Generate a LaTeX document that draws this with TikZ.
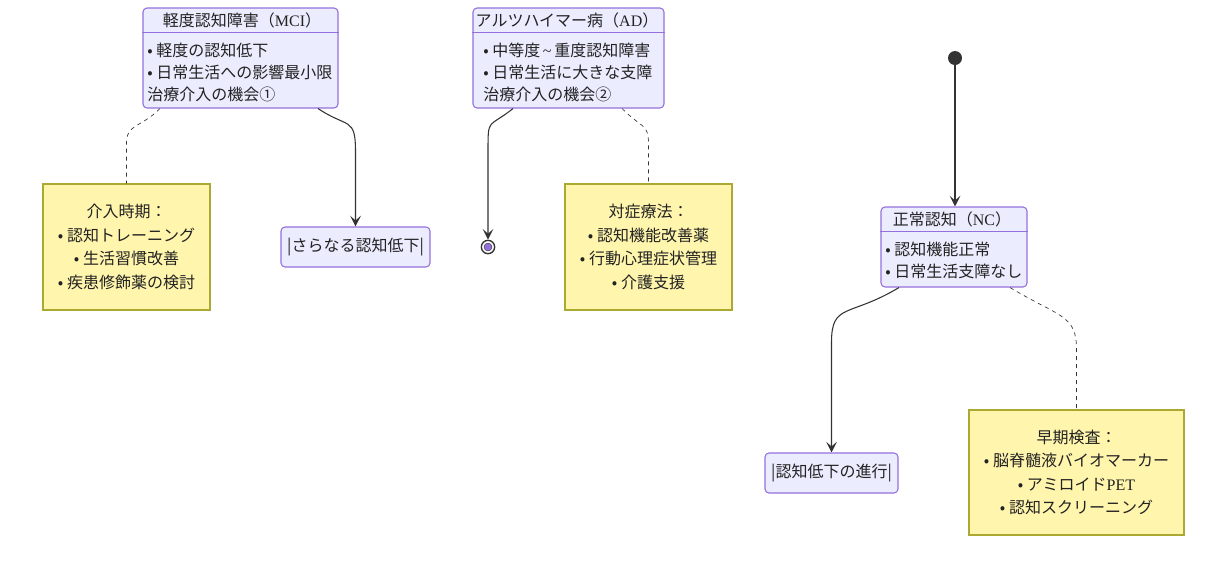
\documentclass[tikz,border=0pt]{standalone}
\usepackage{fontspec}
\setmainfont{Noto Sans CJK JP}
\newfontfamily\latserif{Liberation Serif}
\usetikzlibrary{arrows.meta,calc}

\definecolor{statefill}{HTML}{ECECFF}
\definecolor{stateborder}{HTML}{9370DB}
\definecolor{notefill}{HTML}{FFF5AD}
\definecolor{noteborder}{HTML}{AAAA33}
\definecolor{edge}{HTML}{333333}
\definecolor{textcol}{HTML}{222222}

\tikzset{
    statebox/.style={draw=stateborder, fill=statefill, rounded corners=3pt, line width=0.8pt, inner sep=0pt},
    notebox/.style={draw=noteborder, fill=notefill, line width=0.8pt, inner sep=0pt, align=center, text=textcol, font=\fontsize{12}{17.6}\selectfont},
    flow/.style={draw=edge, line width=0.8pt, -{Stealth[length=8pt,width=8pt,inset=3.5pt]}},
    notelink/.style={draw=edge, line width=0.5pt, dash pattern=on 3pt off 3pt},
    txt/.style={inner sep=0pt, text=textcol, font=\fontsize{12}{16.5}\selectfont},
}

\begin{document}
\begin{tikzpicture}[x=0.75pt, y=-0.75pt]
            \useasboundingbox (0,0) rectangle (1228,569);

            % states
            \node[statebox, minimum width=146.25pt, minimum height=75pt] at (240.5,58) (mci) {};
            \draw[stateborder, line width=0.8pt] ($(mci.north west)+(0,25)$) -- ($(mci.north east)+(0,25)$);
            \node[txt] at (242,20) (mcihead) {軽度認知障害（{\latserif MCI}）};
            \node[txt, anchor=west, align=left] at (147,72) (mcibody) {• 軽度の認知低下\\• 日常生活への影響最小限\\治療介入の機会①};

            \node[statebox, minimum width=143.25pt, minimum height=75pt] at (568.5,58) (ad) {};
            \draw[stateborder, line width=0.8pt] ($(ad.north west)+(0,25)$) -- ($(ad.north east)+(0,25)$);
            \node[txt] at (567,20) (adhead) {アルツハイマー病（{\latserif AD}）};
            \node[txt, anchor=west, align=left] at (483,72) (adbody) {• 中等度{\latserif\,\textasciitilde\,}重度認知障害\\• 日常生活に大きな支障\\治療介入の機会②};

            \node[statebox, minimum width=109.5pt, minimum height=60pt] at (954,247) (nc) {};
            \draw[stateborder, line width=0.8pt] ($(nc.north west)+(0,25)$) -- ($(nc.north east)+(0,25)$);
            \node[txt] at (952,219.5) (nchead) {正常認知（{\latserif NC}）};
            \node[txt, anchor=west, align=left] at (885,260) (ncbody) {• 認知機能正常\\• 日常生活支障なし};

            \node[statebox, txt, draw=stateborder, minimum width=111.75pt, minimum height=30pt] at (355.5,247) (sara) {|さらなる認知低下|};
            \node[statebox, txt, draw=stateborder, minimum width=99.75pt, minimum height=30pt] at (831.5,473) (shinko) {|認知低下の進行|};

            % start and end
            \node[circle, fill=edge, inner sep=0pt, minimum size=10.5pt] at (955,58) (init) {};
            \node[circle, draw=edge, fill=white, line width=1pt, inner sep=0pt, minimum size=10pt] at (488,247) (fin) {};
            \fill[stateborder, draw=edge, line width=0.3pt] (fin) circle (3pt);

            % notes
            \node[notebox, minimum width=125.25pt, minimum height=94.5pt] at (126.5,247) (note1) {介入時期：\\• 認知トレーニング\\• 生活習慣改善\\• 疾患修飾薬の検討};
            \node[notebox, minimum width=125.25pt, minimum height=94.5pt] at (648.5,247) (note2) {対症療法：\\• 認知機能改善薬\\• 行動心理症状管理\\• 介護支援};
            \node[notebox, minimum width=161.25pt, minimum height=93.75pt] at (1076.5,472.5) (note3) {早期検査：\\• 脳脊髄液バイオマーカー\\• アミロイド{\latserif PET}\\• 認知スクリーニング};

            % transitions
            \draw[flow] (init) -- (init |- nc.north);
            \draw[flow] ($(mci.south)+(77.5,0)$) .. controls +(30,20) and +(0,-35) .. ($(sara.north)+(0,-75)$) -- (sara.north);
            \draw[flow] ($(ad.south)+(-55.5,0)$) .. controls +(-25,20) and +(0,-35) .. ($(fin.north)+(0,-88)$) -- (fin.north);
            \draw[flow] ($(nc.south)+(-55,0)$) .. controls +(-50,30) and +(0,-40) .. ($(shinko.north)+(0,-110)$) -- (shinko.north);

            % note links
            \draw[notelink] ($(mci.south)+(-80.5,0)$) .. controls +(-20,20) and +(0,-20) .. ($(note1.north)+(0,-40)$) -- (note1.north);
            \draw[notelink] ($(ad.south)+(53.5,0)$) .. controls +(20,20) and +(0,-20) .. ($(note2.north)+(0,-40)$) -- (note2.north);
            \draw[notelink] ($(nc.south)+(56,0)$) .. controls +(50,30) and +(0,-35) .. ($(note3.north)+(0,-60)$) -- (note3.north);
        \end{tikzpicture}
\end{document}
